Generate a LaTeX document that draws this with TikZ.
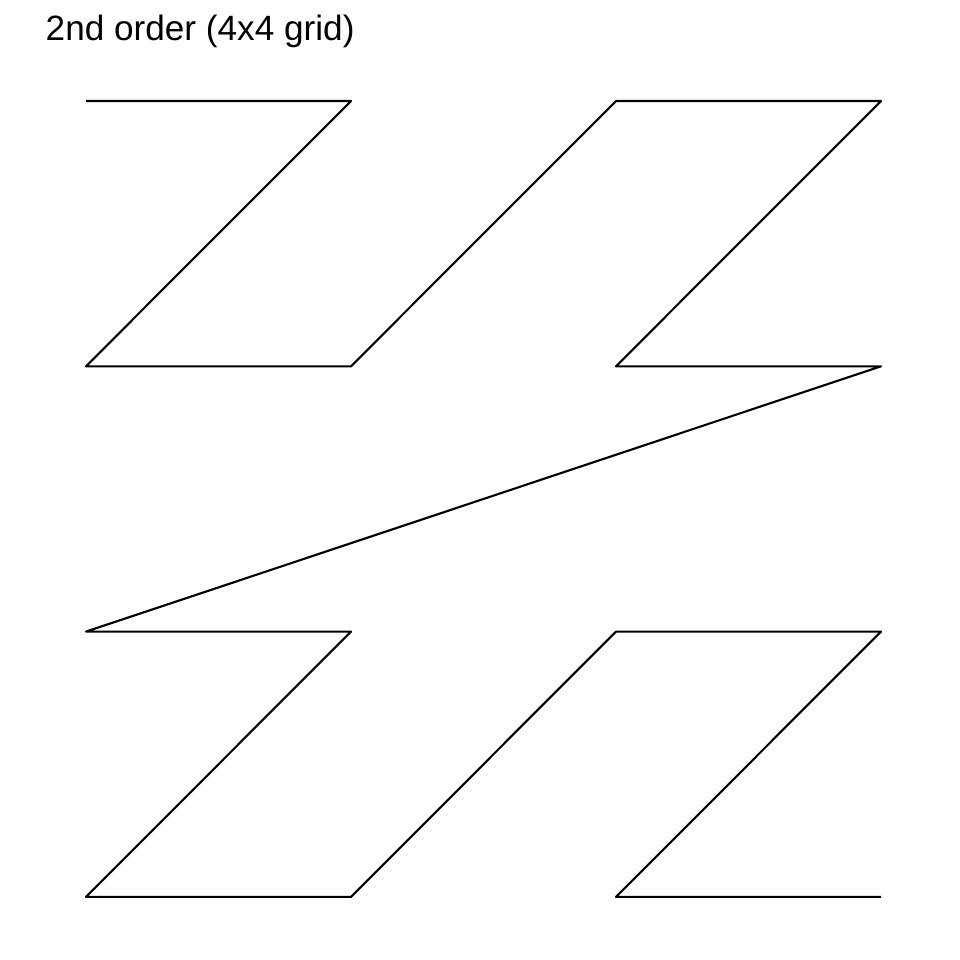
\documentclass[tikz,border=0pt]{standalone}
\usepackage{fontspec}
\setmainfont{Liberation Sans}
\usetikzlibrary{calc}

\begin{document}
\begin{tikzpicture}[
  x=0.01cm, y=-0.01cm,
  curve/.style={draw=black, line width=0.6pt, line join=round},
  title/.style={font=\fontsize{10}{12}\selectfont, anchor=base west, inner sep=0pt},
]
\useasboundingbox (0,0) rectangle (960,960);

% ── Title ──
\node[title] (heading) at (45,40) {2nd order (4x4 grid)};

% ── Grid points in Z order ──
\foreach \i/\c/\r in {0/0/0, 1/1/0, 2/0/1, 3/1/1,
                      4/2/0, 5/3/0, 6/2/1, 7/3/1,
                      8/0/2, 9/1/2, 10/0/3, 11/1/3,
                      12/2/2, 13/3/2, 14/2/3, 15/3/3}
  \coordinate (z\i) at ({86+265*\c}, {101+265.3*\r});

% ── Curve ──
\draw[curve] (z0) \foreach \i in {1,...,15} { -- (z\i) };

\end{tikzpicture}
\end{document}
